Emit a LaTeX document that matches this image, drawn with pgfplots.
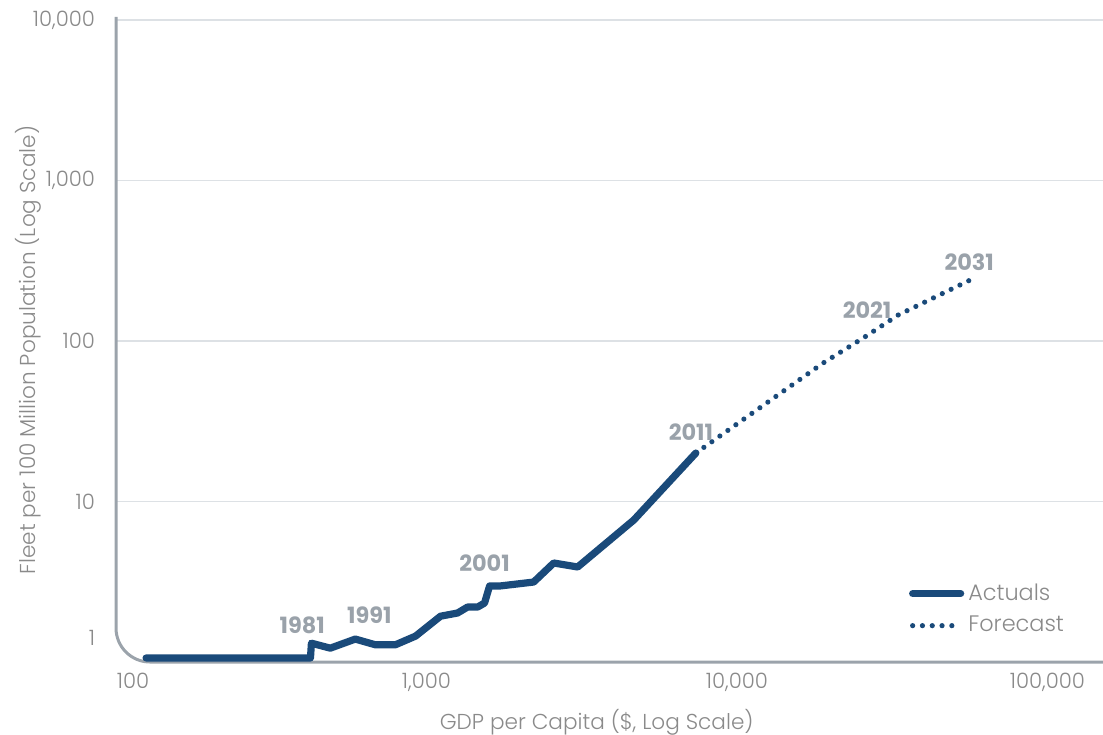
\documentclass[border=0pt]{standalone}
\usepackage{pgfplots}
\pgfplotsset{compat=1.18}
\usepackage{fontspec}
\setmainfont{Poppins}[UprightFont=* Light, BoldFont=* SemiBold]

\definecolor{navy}{HTML}{1A4A7A}
\definecolor{axisgray}{HTML}{9BA3AB}
\definecolor{gridgray}{HTML}{DDE1E5}
\definecolor{labgray}{HTML}{8A8A8A}
\definecolor{yeargray}{HTML}{9AA2AA}

\begin{document}
\begin{tikzpicture}
\begin{axis}[
  name=ax,
  scale only axis, width=493.5pt, height=321pt,
  xmode=log, ymode=log,
  xmin=100, xmax=151000, ymin=1, ymax=10000,
  axis line style={draw=none}, tick style={draw=none},
  xtick={1000,10000,100000}, xticklabels={{1,000},{10,000},{100,000}},
  ytick={10,100,1000,10000}, yticklabels={{10},{100},{1,000},{10,000}},
  extra x ticks={100}, extra x tick labels={100},
  extra x tick style={xticklabel style={xshift=8.5pt}},
  extra y ticks={1}, extra y tick labels={1},
  extra y tick style={yticklabel style={yshift=12pt}, grid=none},
  ymajorgrids, grid style={gridgray, line width=0.75pt},
  ticklabel style={font=\fontsize{10.6}{12}\selectfont, text=labgray},
  xticklabel shift=2pt, yticklabel shift=7pt,
  xlabel={GDP per Capita (\$, Log Scale)},
  ylabel={Fleet per 100 Million Population (Log Scale)},
  label style={font=\fontsize{10.8}{12}\selectfont, text=labgray},
  xlabel style={at={(axis description cs:0.487,0)}, anchor=center, yshift=-30pt},
  ylabel style={at={(axis description cs:0,0.486)}, anchor=center, yshift=44pt},
  clip=false,
  legend style={at={(0.797,0.135)}, anchor=north west, draw=none, fill=none,
    font=\fontsize{11.2}{13}\selectfont, text=labgray, row sep=2.5pt},
  legend cell align=left,
  legend image code/.code={\draw[#1] (0pt,0pt) -- (24pt,0pt);},
]
\draw[axisgray, line width=1.5pt, rounded corners=17pt]
  (rel axis cs:0,1.005) -- (rel axis cs:0,0) -- (rel axis cs:1,0);

\addplot[navy, line width=3.6pt, line cap=round, line join=round] coordinates {
 (125,1.06) (423,1.06) (426,1.31) (490,1.22) (590,1.39) (685,1.28)
 (794,1.28) (922,1.45) (1110,1.93) (1259,2.02) (1356,2.20) (1461,2.20)
 (1538,2.33) (1597,2.98) (1733,2.98) (2214,3.15) (2569,4.14) (3069,3.91)
 (4653,7.67) (7374,20.05)
};
\addlegendentry{Actuals}
\addplot[navy, line width=2.6pt, line cap=round, dash pattern=on 0pt off 4.9pt] coordinates {
 (7374,20.05) (11100,35.1) (18940,72.9) (25500,104.4) (33060,145.2) (58150,246.9)
};
\addlegendentry{Forecast}

\newfontfamily\yearfont{Poppins}[UprightFont=* Bold]
\tikzset{yr/.style={font=\yearfont\fontsize{11.2}{13}\selectfont, text=yeargray}}
\node[yr] at (axis cs:398,1.70) {1981};
\node[yr] at (axis cs:655,1.963) {1991};
\node[yr] at (axis cs:1538,4.14) {2001};
\node[yr] at (axis cs:7105,27.1) {2011};
\node[yr] at (axis cs:26240,156) {2021};
\node[yr] at (axis cs:55980,310) {2031};
\end{axis}
\pgfresetboundingbox
\useasboundingbox ([shift={(-58pt,-36pt)}]ax.south west) rectangle ([shift={(0pt,10pt)}]ax.north east);
\end{tikzpicture}
\end{document}
